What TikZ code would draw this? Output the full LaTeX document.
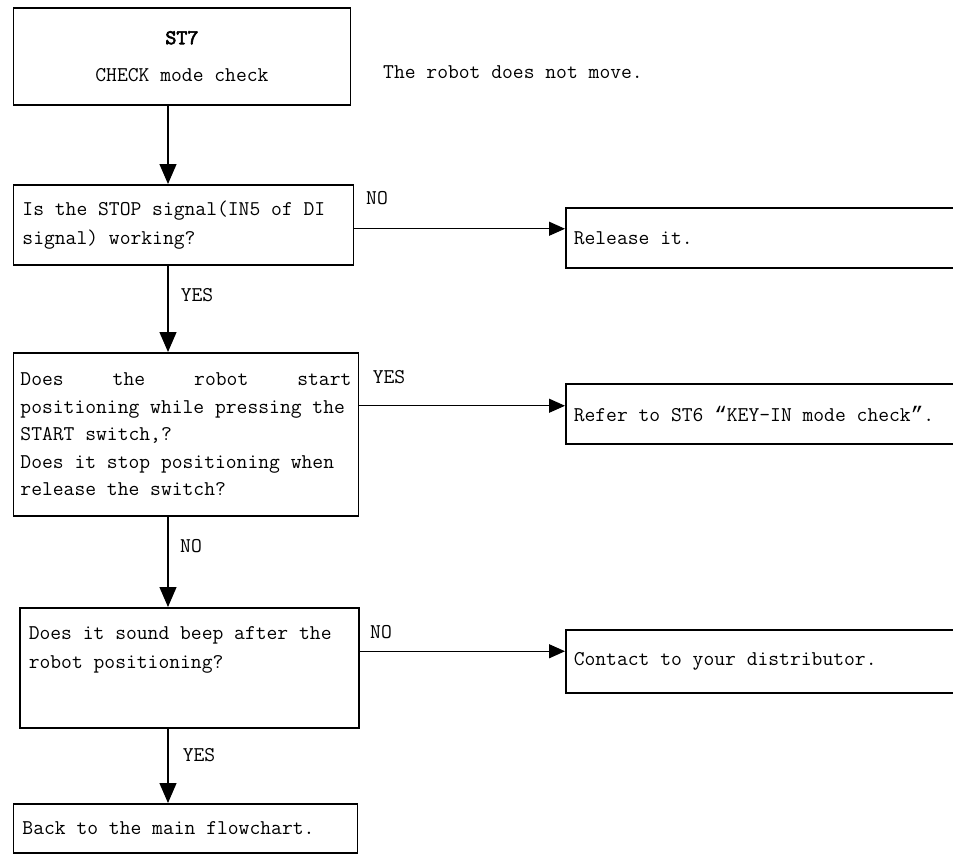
\documentclass[tikz,border=0pt]{standalone}
\usepackage{fontspec}
\newfontfamily\quotefont{Liberation Mono}
\newfontfamily\headfont{lmmono10-regular.otf}[FakeBold=3]
\usetikzlibrary{arrows.meta,positioning}

\begin{document}
\begin{tikzpicture}[x=1pt,y=-1pt,
  font=\ttfamily\fontsize{21}{29}\selectfont,
  box/.style={draw,line width=1.5pt,anchor=north west,inner xsep=9pt,inner ysep=0pt,align=flush left},
  answer/.style={inner sep=0pt},
  vline/.style={line width=1.2pt,-{Triangle[length=20pt,width=17pt]}},
  hline/.style={line width=1.2pt,-{Triangle[length=16pt,width=14pt]}}]
\useasboundingbox (0,0) rectangle (953,855);
\clip (0,0) rectangle (953,855);
% left column
\node[box,align=flush center,text width=319pt,minimum height=97pt] (st7) at (12.7,7) {{\headfont ST7}\\[8pt]CHECK mode check};
\node[anchor=west,inner sep=0pt] (note) at (383,72) {The robot does not move.};
\node[box,text width=322pt,minimum height=80pt] (stop) at (12.7,184) {Is the STOP signal(IN5 of DI\\signal) working?};
\node[box,inner xsep=7pt,text width=331pt,minimum height=163pt,font=\ttfamily\fontsize{21}{27.5}\selectfont] (press) at (12.7,352)
  {Does\hfill the\hfill robot\hfill start\\positioning while pressing the\\START switch,?\\Does it stop positioning when\\release the switch?};
\node[box,text width=321pt,minimum height=120pt] (beep) at (19,607) {Does it sound beep after the\\robot positioning?\\[11pt]\mbox{}};
\node[box,text width=326pt,minimum height=49pt] (back) at (12.7,803) {Back to the main flowchart.};
% right column
\node[box,inner xsep=8pt,text width=384pt,minimum height=60pt] (release) at (565,207) {Release it.};
\node[box,inner xsep=8pt,text width=384pt,minimum height=60pt] (refer) at (565,383) {Refer to ST6 {\quotefont“}KEY-IN mode check{\quotefont”}.};
\node[box,inner xsep=8pt,text width=384pt,minimum height=63pt] (contact) at (565,629) {Contact to your distributor.};
% answers
\node[answer] (no1) at (377,198) {NO};
\node[answer] (yes1) at (197,295) {YES};
\node[answer] (yes2) at (389,377) {YES};
\node[answer] (no2) at (191,546) {NO};
\node[answer] (no3) at (381,632) {NO};
\node[answer] (yes3) at (199,755) {YES};
% connectors
\coordinate (spine) at (168,0);
\draw[vline] (spine |- st7.south) -- (spine |- stop.north);
\draw[vline] (spine |- stop.south) -- (spine |- press.north);
\draw[vline] (spine |- press.south) -- (spine |- beep.north);
\draw[vline] (spine |- beep.south) -- (spine |- back.north);
\coordinate (r1) at ([yshift=9pt]release.west);
\coordinate (r2) at ([yshift=8pt]refer.west);
\coordinate (r3) at ([yshift=10pt]contact.west);
\draw[hline] (stop.east |- r1) -- (r1);
\draw[hline] (press.east |- r2) -- (r2);
\draw[hline] (beep.east |- r3) -- (r3);
\end{tikzpicture}
\end{document}
